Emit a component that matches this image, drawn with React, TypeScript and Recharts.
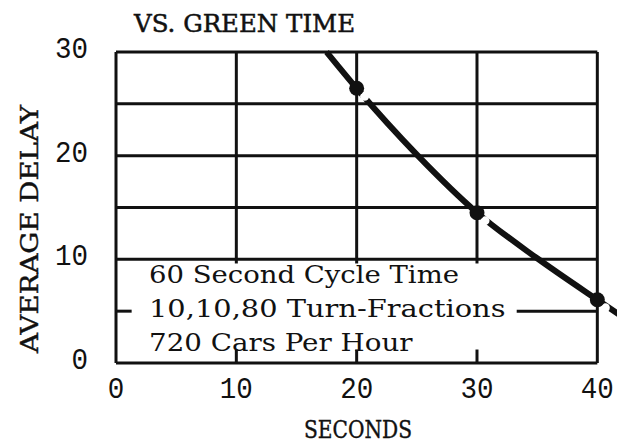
import React from "react";
import {
  ComposedChart,
  Line,
  Scatter,
  XAxis,
  YAxis,
  ReferenceLine,
} from "recharts";

// ---- data ----
const curveX = [17.5, 20, 25, 30, 35, 40, 42.3];
const curveY = [30, 26.5, 20.1, 14.5, 10.1, 6.1, 4.3];
const pointX = [20, 30, 40];
const pointY = [26.5, 14.5, 6.1];
const xTicks = [0, 10, 20, 30, 40];
const yTicks = [0, 10, 20, 30];
const gridY = [10, 15, 20, 25];
const gridX = [10, 20, 30];
const titleText = "VS. GREEN TIME";
const yLabelText = "AVERAGE DELAY";
const xLabelText = "SECONDS";
const noteLines = ["60 Second Cycle Time", "10,10,80 Turn-Fractions", "720 Cars Per Hour"];

const curveData = curveX.map((x, i) => ({ x, y: curveY[i] }));
const pointData = pointX.map((x, i) => ({ x, y: pointY[i] }));

const W = 617;
const H = 435;
const INK = "#111";
const MONO = "'Liberation Mono', 'DejaVu Sans Mono', monospace";
const SLAB = "'DejaVu Serif', 'Liberation Serif', serif";

const XTick = (props: any) => {
  const { x, y, payload } = props;
  const s = String(payload.value);
  return (
    <text x={x} y={y + 35} textAnchor="middle" fontFamily={MONO} fontSize={29} fill={INK}
      textLength={16.5 * s.length} lengthAdjust="spacingAndGlyphs">
      {s}
    </text>
  );
};

const YTick = (props: any) => {
  const { x, y, payload } = props;
  const s = String(payload.value);
  return (
    <text x={x - 28} y={y + 6} textAnchor="end" fontFamily={MONO} fontSize={29} fill={INK}
      textLength={16.5 * s.length} lengthAdjust="spacingAndGlyphs">
      {s}
    </text>
  );
};

const Dot = (props: any) => {
  const { cx, cy } = props;
  return (
    <g>
      <circle cx={cx + 8} cy={cy + 8} r={4.5} fill="#fff" />
      <circle cx={cx} cy={cy} r={7.5} fill={INK} />
    </g>
  );
};

const seg = (x1: number, y1: number, x2: number, y2: number, key: string) => (
  <ReferenceLine
    key={key}
    segment={[{ x: x1, y: y1 }, { x: x2, y: y2 }]}
    stroke={INK}
    strokeWidth={3}
    ifOverflow="visible"
  />
);

export default function App() {
  return (
    <div style={{ position: "relative", width: W, height: H, overflow: "hidden", background: "#fff" }}>
      <ComposedChart width={W} height={H} margin={{ top: 44, right: 0, bottom: 0, left: 0 }}>
        <XAxis
          type="number"
          dataKey="x"
          domain={[0, 42.3]}
          ticks={xTicks}
          allowDataOverflow
          axisLine={false}
          tickLine={false}
          tickSize={0}
          tickMargin={0}
          height={80}
          tick={<XTick />}
          interval={0}
        />
        <YAxis
          type="number"
          dataKey="y"
          domain={[0, 30]}
          ticks={yTicks}
          axisLine={false}
          tickLine={false}
          tickSize={0}
          tickMargin={0}
          width={108}
          tick={<YTick />}
          interval={0}
        />
        {seg(0, 30, 40, 30, "top")}
        {seg(0, 0, 40, 0, "bottom")}
        {seg(0, 0, 0, 30, "left")}
        {seg(40, 0, 40, 30, "right")}
        {gridY.map((v) => seg(0, v, 40, v, "h" + v))}
        {gridX.map((v) => seg(v, 9.6, v, 30, "v" + v))}
        {gridX.map((v) => seg(v, 0, v, 1.3, "b" + v))}
        {seg(0, 5, 1.3, 5, "l5")}
        {seg(33.3, 5, 40, 5, "r5")}
        <Line
          data={curveData}
          dataKey="y"
          type="monotone"
          stroke={INK}
          strokeWidth={6}
          dot={false}
          activeDot={false}
          isAnimationActive={false}
        />
        <Scatter data={pointData} dataKey="y" shape={<Dot />} isAnimationActive={false} />
      </ComposedChart>
      <svg width={W} height={H} style={{ position: "absolute", left: 0, top: 0, pointerEvents: "none" }}>
        <text x={126} y={24} fontFamily={SLAB} fontSize={24} fill={INK} stroke={INK} strokeWidth={0.5}
          textLength={221} lengthAdjust="spacingAndGlyphs">
          {titleText}
        </text>
        <text x={30} y={221} transform="rotate(-90, 30, 221)" textAnchor="middle" fontFamily={SLAB}
          fontSize={25} fill={INK} stroke={INK} strokeWidth={0.4} textLength={248} lengthAdjust="spacingAndGlyphs">
          {yLabelText}
        </text>
        <text x={350} y={430} textAnchor="middle" fontFamily={SLAB} fontSize={24} fill={INK} stroke={INK}
          strokeWidth={0.4} textLength={108} lengthAdjust="spacingAndGlyphs">
          {xLabelText}
        </text>
        {noteLines.map((t, i) => (
          <text key={t} x={141} y={275 + i * 34} fontFamily={SLAB} fontSize={24} fill={INK}
            textLength={15.5 * t.length} lengthAdjust="spacingAndGlyphs">
            {t}
          </text>
        ))}
      </svg>
    </div>
  );
}
